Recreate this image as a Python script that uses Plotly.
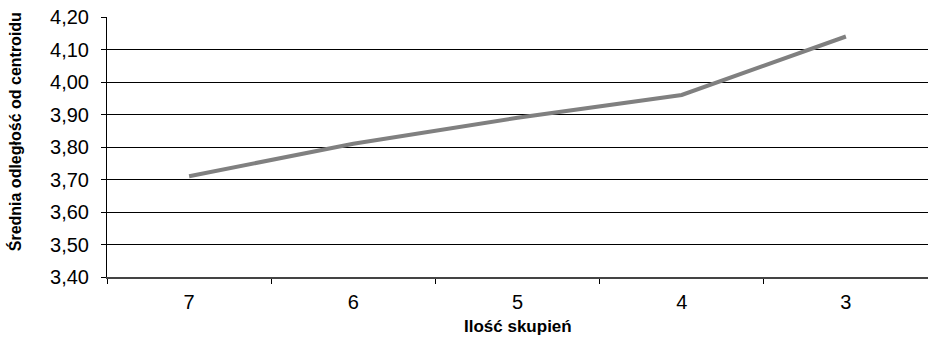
import plotly.graph_objects as go

# Number of clusters (shown from 7 down to 3) and the mean distance to centroid
clusters = ["7", "6", "5", "4", "3"]
mean_distance = [3.71, 3.81, 3.89, 3.96, 4.14]
y_ticks = [3.40, 3.50, 3.60, 3.70, 3.80, 3.90, 4.00, 4.10, 4.20]

x_title = "Ilość skupień"
y_title = "Średnia odległość od centroidu"

FONT = "Liberation Sans, Arial, sans-serif"

fig = go.Figure()
fig.add_trace(go.Scatter(
    x=clusters,
    y=mean_distance,
    mode="lines",
    line=dict(color="#808080", width=4),
    hoverinfo="x+y",
))

fig.update_layout(
    width=928,
    height=342,
    margin=dict(l=107, r=0, t=17, b=65),
    paper_bgcolor="white",
    plot_bgcolor="white",
    separators=", ",
    showlegend=False,
    font=dict(family=FONT, color="#000000", size=16),
    xaxis=dict(
        type="category",
        range=[-0.5, 4.5],
        tickson="boundaries",
        ticks="outside",
        ticklen=5,
        tickwidth=1,
        tickcolor="#000000",
        showgrid=False,
        showline=True,
        linecolor="#444444",
        linewidth=1.5,
        tickfont=dict(family=FONT, size=20, color="#000000"),
        ticklabelstandoff=6,
    ),
    yaxis=dict(
        range=[3.4, 4.2],
        tickvals=y_ticks,
        tickformat=".2f",
        ticks="outside",
        ticklen=5,
        tickwidth=1,
        tickcolor="#000000",
        showgrid=True,
        gridcolor="#000000",
        gridwidth=1,
        zeroline=False,
        showline=True,
        linecolor="#000000",
        linewidth=1,
        tickfont=dict(family=FONT, size=20, color="#000000"),
        ticklabelstandoff=8,
    ),
    annotations=[
        dict(
            text=f"<b>{y_title}</b>",
            xref="paper", yref="paper",
            x=-0.111, y=0.56,
            xanchor="center", yanchor="middle",
            textangle=-90, showarrow=False,
            font=dict(family=FONT, size=16, color="#000000"),
        ),
        dict(
            text=f"<b>{x_title}</b>",
            xref="paper", yref="paper",
            x=0.5, y=-0.192,
            xanchor="center", yanchor="middle",
            showarrow=False,
            font=dict(family=FONT, size=17, color="#000000"),
        ),
    ],
)

fig.write_html("out.html")
